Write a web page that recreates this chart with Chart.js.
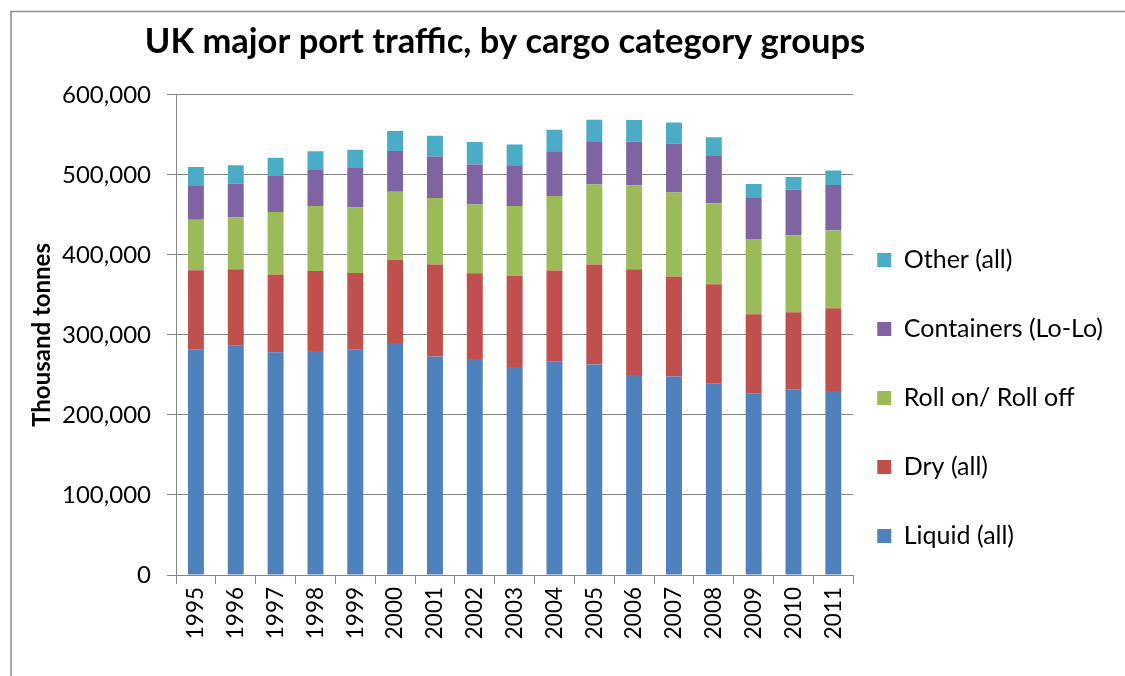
<!DOCTYPE html>
<html lang="en">
  <head>
    <meta charset="UTF-8" />
    <title>UK major port traffic</title>
    <script src="https://cdn.jsdelivr.net/npm/chart.js@4.4.0/dist/chart.umd.min.js"></script>
    <style>
      body {
        margin: 0;
        background: #fff;
      }
      #wrap {
        width: 1125px;
        height: 676px;
      }
    </style>
  </head>
  <body>
    <div id="wrap"><canvas id="chart"></canvas></div>
    <script>
      // thousand tonnes
      const years = ["1995", "1996", "1997", "1998", "1999", "2000", "2001", "2002", "2003",
        "2004", "2005", "2006", "2007", "2008", "2009", "2010", "2011"];
      const liquid = [282000, 287000, 278500, 280000, 281500, 290000, 273000, 270000, 260000,
        266500, 263000, 250000, 248000, 239000, 227000, 231500, 230000];
      const dry = [99000, 95000, 97000, 100000, 96000, 104000, 115000, 107000, 114000,
        114000, 125000, 132000, 125000, 124500, 99000, 97000, 103500];
      const roro = [63000, 65000, 78000, 81000, 82000, 85000, 83000, 86000, 87000,
        93000, 100000, 105000, 105000, 101000, 94000, 96000, 97000];
      const containers = [42000, 42000, 45000, 45000, 49000, 51000, 52000, 50000, 51000,
        56000, 54000, 54500, 61000, 59000, 52000, 57000, 57000];
      const other = [24000, 23000, 23000, 23500, 23000, 25000, 26000, 28000, 26000,
        27000, 27000, 27000, 26500, 23500, 16500, 16000, 18000];
      const yTicks = [0, 100000, 200000, 300000, 400000, 500000, 600000];

      const axisGrey = "#868686";
      const font = "Lato";

      // outer chart frame (top and left edges only are in view)
      const frame = {
        id: "frame",
        beforeDraw(chart) {
          const ctx = chart.ctx;
          ctx.save();
          ctx.strokeStyle = "#8c8c8c";
          ctx.lineWidth = 1.5;
          ctx.beginPath();
          ctx.moveTo(11, 676);
          ctx.lineTo(11, 11.5);
          ctx.lineTo(1125, 11.5);
          ctx.stroke();
          ctx.restore();
        }
      };

      // move title and legend to where Excel put them
      const nudge = {
        id: "nudge",
        afterLayout(chart) {
          const t = chart.titleBlock;
          const dt = 505 - (t.left + t.right) / 2;
          t.left += dt;
          t.right += dt;
          const lg = chart.legend;
          const dx = chart.chartArea.right + 24 - (lg.left + lg.options.labels.padding);
          lg.left += dx;
          lg.right += dx;
          lg.top += 60;
          lg.bottom += 60;
        }
      };

      Chart.defaults.color = "#000";
      Chart.defaults.font.family = font;

      new Chart(document.getElementById("chart"), {
        type: "bar",
        data: {
          labels: years,
          datasets: [
            { label: "Liquid (all)", data: liquid, backgroundColor: "#4F81BD" },
            { label: "Dry (all)", data: dry, backgroundColor: "#C0504D" },
            { label: "Roll on/ Roll off", data: roro, backgroundColor: "#9BBB59" },
            { label: "Containers (Lo-Lo)", data: containers, backgroundColor: "#8064A2" },
            { label: "Other (all)", data: other, backgroundColor: "#4BACC6" }
          ]
        },
        options: {
          responsive: true,
          maintainAspectRatio: false,
          animation: false,
          categoryPercentage: 0.8,
          barPercentage: 0.5,
          layout: { padding: { top: 0, left: 26, right: -4, bottom: 0 } },
          plugins: {
            tooltip: { enabled: false },
            title: {
              display: true,
              text: "UK major port traffic, by cargo category groups",
              font: { family: font, size: 34.5, weight: "bold" },
              padding: { top: 21, bottom: 32.5 }
            },
            legend: {
              position: "right",
              reverse: true,
              labels: {
                boxWidth: 14,
                boxHeight: 14,
                padding: 44,
                font: { family: font, size: 25 }
              }
            }
          },
          scales: {
            x: {
              stacked: true,
              grid: {
                offset: true,
                drawOnChartArea: false,
                tickLength: 9,
                color: axisGrey
              },
              border: { color: axisGrey },
              ticks: {
                minRotation: 90,
                maxRotation: 90,
                padding: 3,
                font: { family: font, size: 22.5 }
              },
              afterFit(scale) {
                scale.height = 101;
              }
            },
            y: {
              stacked: true,
              min: 0,
              max: 600000,
              afterBuildTicks(scale) {
                scale.ticks = yTicks.map(v => ({ value: v }));
              },
              grid: { color: axisGrey, tickLength: 9 },
              border: { color: axisGrey },
              ticks: {
                padding: 16,
                font: { family: font, size: 24 },
                callback: v => v.toLocaleString("en-US")
              },
              title: {
                display: true,
                text: "Thousand tonnes",
                font: { family: font, size: 24, weight: "bold" },
                padding: { top: 2, bottom: 4 }
              },
              afterFit(scale) {
                scale.width = 150;
              }
            }
          }
        },
        plugins: [frame, nudge]
      });
    </script>
  </body>
</html>
